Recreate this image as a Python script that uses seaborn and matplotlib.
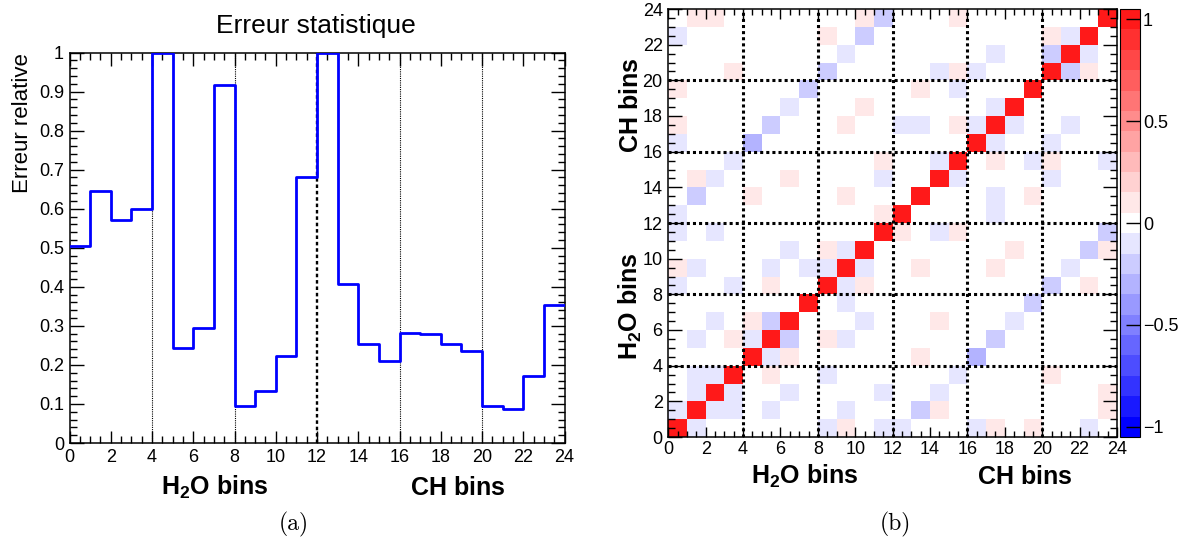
import numpy as np
import pandas as pd
import matplotlib
matplotlib.use("Agg")
import matplotlib.pyplot as plt
from matplotlib.colors import ListedColormap, BoundaryNorm
from matplotlib.ticker import MultipleLocator, FuncFormatter
import seaborn as sns

# ---------------- data ----------------
bin_edges = list(range(25))
rel_error = [0.505, 0.646, 0.571, 0.600, 1.000, 0.243, 0.295, 0.916,
             0.094, 0.132, 0.223, 0.680, 1.000, 0.408, 0.254, 0.209,
             0.282, 0.279, 0.253, 0.236, 0.094, 0.087, 0.171, 0.353]
group_edges = [4, 8, 12, 16, 20]
tick_values = list(range(0, 25, 2))
tick_labels = [str(v) for v in tick_values]

# correlation matrix in tenths, row = y bin (0 at bottom), column = x bin
corr_tenths = [
    [10, -1, 0, 0, 0, 0, 0, 0, -1, 1, 0, -1, -1, 0, 0, 0, -1, 1, 0, 1, 0, 0, -1, 0],
    [-1, 10, -1, -1, 0, -1, 0, 0, 0, -1, 0, 0, 0, -2, 1, 0, 0, 0, 0, 0, 0, 0, 0, 1],
    [0, -1, 10, -1, 0, 0, -1, 0, 0, 0, 0, -1, 0, 0, -1, 0, 0, 0, 0, 0, 0, 0, 0, 1],
    [0, -1, -1, 10, 0, 1, 0, 0, -1, 0, 0, 0, 0, 0, 0, -1, 0, 0, 0, 0, 1, 0, 0, 0],
    [0, 0, 0, 0, 10, -1, 1, 0, 0, 0, 0, 0, 0, 1, 0, 0, -3, 0, 0, 0, 0, 0, 0, 0],
    [0, -1, 0, 1, -1, 10, -2, 0, 1, -1, 0, 0, 0, 0, 0, 0, 0, -2, 0, 0, 0, 0, 0, 0],
    [0, 0, -1, 0, 1, -2, 10, 0, 0, 0, -1, 0, 0, 0, 1, 0, 0, 0, -1, 0, 0, 0, 0, 0],
    [0, 0, 0, 0, 0, 0, 0, 10, 0, -1, 0, 0, 0, 0, 0, 0, 0, 0, 0, -2, 0, 0, 0, 0],
    [-1, 0, 0, -1, 0, 1, 0, 0, 10, -1, 1, 0, 0, 0, 0, 0, 0, 0, 0, 0, -2, 0, 1, 0],
    [1, -1, 0, 0, 0, -1, 0, -1, -1, 10, -1, 0, 0, 1, 0, 0, 0, 1, 0, 0, 0, -1, 0, 0],
    [0, 0, 0, 0, 0, 0, -1, 0, 1, -1, 10, 0, 0, 0, 0, 0, 0, 0, 1, 0, 0, 0, -2, 1],
    [-1, 0, -1, 0, 0, 0, 0, 0, 0, 0, 0, 10, 1, 0, -1, 1, 0, 0, 0, 0, 0, 0, 0, -2],
    [-1, 0, 0, 0, 0, 0, 0, 0, 0, 0, 0, 1, 10, 0, 0, 0, 0, -1, 0, 0, 0, 0, 0, 0],
    [0, -2, 0, 0, 1, 0, 0, 0, 0, 1, 0, 0, 0, 10, 0, 0, 0, -1, 0, 1, 0, 0, 0, 0],
    [0, 1, -1, 0, 0, 0, 1, 0, 0, 0, 0, -1, 0, 0, 10, -1, 0, 0, 0, 0, -1, 0, 0, 0],
    [0, 0, 0, -1, 0, 0, 0, 0, 0, 0, 0, 1, 0, 0, -1, 10, 0, 1, 0, -1, 1, 0, 0, -1],
    [-1, 0, 0, 0, -3, 0, 0, 0, 0, 0, 0, 0, 0, 0, 0, 0, 10, -1, 0, 0, -1, 0, 0, 0],
    [1, 0, 0, 0, 0, -2, 0, 0, 0, 1, 0, 0, -1, -1, 0, 1, -1, 10, -1, 0, 0, -1, 0, 0],
    [0, 0, 0, 0, 0, 0, -1, 0, 0, 0, 1, 0, 0, 0, 0, 0, 0, -1, 10, 0, 0, 0, 0, 0],
    [1, 0, 0, 0, 0, 0, 0, -2, 0, 0, 0, 0, 0, 1, 0, -1, 0, 0, 0, 10, 0, 0, 0, 0],
    [0, 0, 0, 1, 0, 0, 0, 0, -2, 0, 0, 0, 0, 0, -1, 1, -1, 0, 0, 0, 10, -2, 1, 0],
    [0, 0, 0, 0, 0, 0, 0, 0, 0, -1, 0, 0, 0, 0, 0, 0, 0, -1, 0, 0, -2, 10, -1, 0],
    [-1, 0, 0, 0, 0, 0, 0, 0, 1, 0, -2, 0, 0, 0, 0, 0, 0, 0, 0, 0, 1, -1, 10, 0],
    [0, 1, 1, 0, 0, 0, 0, 0, 0, 0, 1, -2, 0, 0, 0, 1, 0, 0, 0, 0, 0, 0, 0, 10],
]
cbar_ticks = [-1, -0.5, 0, 0.5, 1]
cbar_labels = ["\u22121", "\u22120.5", "0", "0.5", "1"]

# ---------------- style ----------------
sns.set_theme(style="ticks")
plt.rcParams["font.family"] = ["Liberation Sans", "DejaVu Sans"]
plt.rcParams["mathtext.fontset"] = "custom"
plt.rcParams["mathtext.rm"] = "Liberation Sans"
plt.rcParams["mathtext.bf"] = "Liberation Sans:bold"
plt.rcParams["mathtext.it"] = "Liberation Sans:italic"
plt.rcParams["axes.edgecolor"] = "black"
plt.rcParams["axes.linewidth"] = 1.1
plt.rcParams["axes.axisbelow"] = False
plt.rcParams["text.color"] = "black"
plt.rcParams["axes.labelcolor"] = "black"
plt.rcParams["xtick.color"] = "black"
plt.rcParams["ytick.color"] = "black"
plt.rcParams["xtick.labelcolor"] = "black"
plt.rcParams["ytick.labelcolor"] = "black"

W, H = 1183, 538
fig = plt.figure(figsize=(W / 100, H / 100), dpi=100)


def box(x0, y0, x1, y1):
    return [x0 / W, 1 - y1 / H, (x1 - x0) / W, (y1 - y0) / H]


def fx(x):
    return x / W


def fy(y):
    return 1 - y / H


# ---------------- left panel: histogram ----------------
ax1 = fig.add_axes(box(69.5, 52.5, 564.5, 443))
ax1.set_axisbelow(False)
centers = [(bin_edges[i] + bin_edges[i + 1]) / 2 for i in range(len(rel_error))]
df_h = pd.DataFrame({"bin": centers, "err": rel_error})
for g in group_edges:
    if g == 12:
        ax1.axvline(g, color="black", lw=1.7, ls=(0, (1.5, 1.2)), zorder=1)
    else:
        ax1.axvline(g, color="black", lw=0.8, ls=(0, (1, 1)), zorder=1)
sns.histplot(data=df_h, x="bin", weights="err", bins=bin_edges, element="step",
             fill=False, color="#0000ff", linewidth=2.0, ax=ax1, zorder=3)
ax1.set_xlim(0, 24)
ax1.set_ylim(0, 1)
ax1.set_xlabel("")
ax1.set_ylabel("")
ax1.xaxis.set_major_locator(MultipleLocator(2))
ax1.xaxis.set_minor_locator(MultipleLocator(0.5))
ax1.yaxis.set_major_locator(MultipleLocator(0.1))
ax1.yaxis.set_minor_locator(MultipleLocator(0.02))
ax1.yaxis.set_major_formatter(FuncFormatter(lambda v, p: "%g" % round(v, 2)))
ax1.xaxis.set_major_formatter(FuncFormatter(lambda v, p: "%d" % round(v)))
ax1.tick_params(which="both", direction="in", top=True, right=True, bottom=True, left=True,
                color="black", labelsize=13, width=1)
ax1.tick_params(axis="y", which="major", length=10, pad=4)
ax1.tick_params(axis="y", which="minor", length=5)
ax1.tick_params(axis="x", which="major", length=9, pad=4)
ax1.tick_params(axis="x", which="minor", length=5)
for s in ax1.spines.values():
    s.set_visible(True)
    s.set_color("black")
    s.set_linewidth(1.1)

fig.text(fx(316), fy(33), "Erreur statistique", ha="center", va="baseline", fontsize=19)
fig.text(fx(28), fy(53), "Erreur relative", ha="right", va="baseline",
         rotation=90, rotation_mode="anchor", fontsize=16)
fig.text(fx(214.5), fy(495), r"$\mathbf{H_{2}O\ bins}$", ha="center", va="baseline", fontsize=18)
fig.text(fx(457.5), fy(495), r"$\mathbf{CH\ bins}$", ha="center", va="baseline", fontsize=18)
fig.text(fx(294), fy(530), "(a)", ha="center", va="baseline", fontsize=17, family="cmr10")

# ---------------- right panel: correlation matrix ----------------
ax2 = fig.add_axes(box(668.3, 9, 1117, 437))
cax = fig.add_axes(box(1120, 9, 1140, 437))

levels = np.round(np.linspace(-1, 1, 21), 2)
pal = []
for c in levels:
    if c >= 0:
        g = 1 - c * 0.9
        pal.append((1.0, g, g))
    else:
        g = 1 + c
        pal.append((g, g, 1.0))
cmap = ListedColormap(pal)
norm = BoundaryNorm(np.linspace(-1.05, 1.05, 22), cmap.N)

corr = pd.DataFrame(np.array(corr_tenths, dtype=float) / 10.0)
sns.heatmap(corr, ax=ax2, cmap=cmap, norm=norm, cbar_ax=cax,
            cbar_kws={"ticks": cbar_ticks}, xticklabels=False, yticklabels=False)
cbar = ax2.collections[0].colorbar
ax2.set_axisbelow(False)
ax2.set_xlim(0, 24)
ax2.set_ylim(0, 24)
for g in group_edges:
    ax2.axvline(g, color="black", lw=2.2, ls=(0, (1, 1)), zorder=4)
    ax2.axhline(g, color="black", lw=2.2, ls=(0, (1, 1)), zorder=4)
ax2.set_xticks(tick_values)
ax2.set_xticklabels(tick_labels)
ax2.set_yticks(tick_values)
ax2.set_yticklabels(tick_labels)
ax2.xaxis.set_minor_locator(MultipleLocator(0.5))
ax2.yaxis.set_minor_locator(MultipleLocator(0.5))
ax2.tick_params(which="both", direction="in", top=True, right=True, bottom=True, left=True,
                color="black", labelsize=13, width=1)
ax2.tick_params(axis="y", which="major", length=10, pad=4)
ax2.tick_params(axis="y", which="minor", length=5)
ax2.tick_params(axis="x", which="major", length=7, pad=3)
ax2.tick_params(axis="x", which="minor", length=4)
ax2.set_xlabel("")
ax2.set_ylabel("")
for s in ax2.spines.values():
    s.set_visible(True)
    s.set_color("black")
    s.set_linewidth(1.1)

cbar.set_ticks(cbar_ticks)
cbar.set_ticklabels(cbar_labels)
cax.set_axisbelow(False)
cax.tick_params(axis="y", which="major", direction="in", length=10, width=1, color="black",
                labelsize=13, pad=2, right=True, left=False)
cax.minorticks_off()
cbar.outline.set_linewidth(0.8)
cbar.outline.set_edgecolor("black")

fig.text(fx(805), fy(484), r"$\mathbf{H_{2}O\ bins}$", ha="center", va="baseline", fontsize=18)
fig.text(fx(1024.5), fy(484), r"$\mathbf{CH\ bins}$", ha="center", va="baseline", fontsize=18)
fig.text(fx(638), fy(306), r"$\mathbf{H_{2}O\ bins}$", ha="center", va="baseline",
         rotation=90, rotation_mode="anchor", fontsize=18)
fig.text(fx(638), fy(105), r"$\mathbf{CH\ bins}$", ha="center", va="baseline",
         rotation=90, rotation_mode="anchor", fontsize=18)
fig.text(fx(895), fy(530), "(b)", ha="center", va="baseline", fontsize=17, family="cmr10")

fig.savefig("out.png", dpi=100)
